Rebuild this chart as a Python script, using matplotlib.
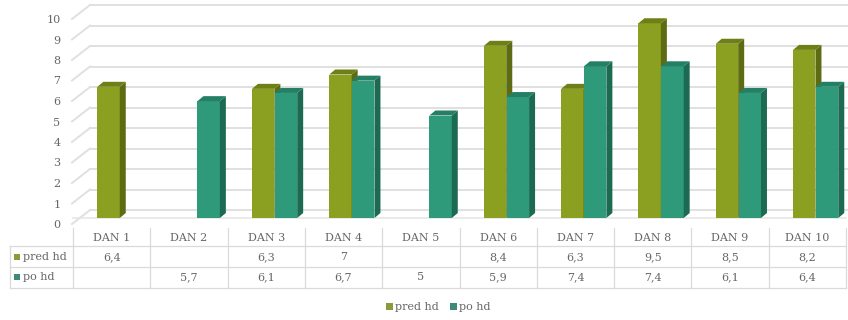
import numpy as np
import matplotlib.pyplot as plt
from matplotlib.patches import Polygon, Patch
from matplotlib import transforms

plt.rcParams['font.family'] = ['DejaVu Serif', 'Liberation Serif']

dani = ['DAN 1', 'DAN 2', 'DAN 3', 'DAN 4', 'DAN 5',
        'DAN 6', 'DAN 7', 'DAN 8', 'DAN 9', 'DAN 10']
pred_hd = [6.4, None, 6.3, 7, None, 8.4, 6.3, 9.5, 8.5, 8.2]
po_hd = [None, 5.7, 6.1, 6.7, 5, 5.9, 7.4, 7.4, 6.1, 6.4]
serije = ['pred hd', 'po hd']

# boje: prednja strana, bok, vrh
boje = {
    'pred hd': ('#8b9f20', '#5d6c12', '#6f7f16'),
    'po hd': ('#2f9a7a', '#1d6a52', '#257f64'),
}
legenda_boje = {'pred hd': '#8b9a3a', 'po hd': '#3f8a78'}
siva = '#666666'

W, H = 848, 320
fig = plt.figure(figsize=(W / 100, H / 100), dpi=100)
fig.patch.set_facecolor('white')


def fy(px):
    return 1 - px / H


# os: nula na 218 px, 10 na 13 px
ax = fig.add_axes([73 / W, fy(218), (846 - 73) / W, (218 - 13) / H])
ax.set_xlim(-0.5, 9.5)
ax.set_ylim(0, 10)
ax.patch.set_alpha(0)
for s in ax.spines.values():
    s.set_visible(False)

px_x = (846 - 73) / 10.0
px_y = (218 - 13) / 10.0
dx = 6 / px_x
dy = 5 / px_y

# mreza na zadnjem zidu
back = 8 / px_y
front = -6 / px_y
for v in range(11):
    ax.plot([-0.5 - 1 / px_x, -0.5 + 17 / px_x], [v + front, v + back],
            color='#e0e0e0', lw=1.4, clip_on=False, zorder=0)
    ax.plot([-0.5 + 17 / px_x, 9.55], [v + back, v + back],
            color='#e0e0e0', lw=1.4, clip_on=False, zorder=0)
ax.plot([-0.5, 9.5], [0, 0], color='#e6e6e6', lw=1.2, clip_on=False, zorder=0)

ax.set_yticks(range(11))
ax.set_yticklabels([str(v) for v in range(11)])
ax.tick_params(axis='y', length=0, pad=9, labelsize=8, labelcolor=siva)
pomak = transforms.ScaledTranslation(0, -0.06, fig.dpi_scale_trans)
for lab in ax.get_yticklabels():
    lab.set_transform(lab.get_transform() + pomak)
ax.set_xticks([])

x = np.arange(len(dani))
sirina = 0.29
pozicije = {'pred hd': -0.04, 'po hd': 0.255}
podaci = {'pred hd': pred_hd, 'po hd': po_hd}

for z, ime in enumerate(serije):
    vals = podaci[ime]
    lice, bok, vrh = boje[ime]
    for i, v in enumerate(vals):
        if v is None:
            continue
        x0 = x[i] + pozicije[ime] - sirina / 2
        x1 = x0 + sirina
        ax.bar(x0, v, width=sirina, align='edge', color=lice,
               zorder=2 + z, linewidth=0)
        ax.add_patch(Polygon([(x1, 0), (x1, v), (x1 + dx, v + dy), (x1 + dx, dy)],
                             closed=True, facecolor=bok, lw=0, zorder=2 + z))
        ax.add_patch(Polygon([(x0, v), (x1, v), (x1 + dx, v + dy), (x0 + dx, v + dy)],
                             closed=True, facecolor=vrh, lw=0, zorder=2 + z))

# tablica podataka ispod grafikona
tr = transforms.blended_transform_factory(ax.transData, fig.transFigure)
crta = '#dadada'
redovi_y = [238, 257, 277]
for yy in [246, 267, 288]:
    fig.add_artist(plt.Line2D([10 / W, 846 / W], [fy(yy), fy(yy)],
                              color=crta, lw=0.9))
for k in range(len(dani) + 1):
    fig.add_artist(plt.Line2D([k - 0.5, k - 0.5], [fy(228), fy(288)],
                              transform=tr, color=crta, lw=0.9))
fig.add_artist(plt.Line2D([10 / W, 10 / W], [fy(246), fy(288)],
                          color=crta, lw=0.9))


def oznaka(v):
    if v is None:
        return ''
    return ('%g' % v).replace('.', ',')


for i, d in enumerate(dani):
    fig.text(x[i], fy(redovi_y[0]), d, transform=tr, ha='center', va='center',
             fontsize=8, color=siva)
    for r, ime in enumerate(serije):
        fig.text(x[i], fy(redovi_y[r + 1]), oznaka(podaci[ime][i]), transform=tr,
                 ha='center', va='center', fontsize=8, color=siva)

for r, ime in enumerate(serije):
    yy = redovi_y[r + 1]
    fig.add_artist(plt.Rectangle((14 / W, fy(yy + 3)), 6 / W, 6 / H,
                                 color=legenda_boje[ime], lw=0))
    fig.text(23 / W, fy(yy), ime, ha='left', va='center', fontsize=8,
             color=siva)

ruke = [Patch(facecolor=legenda_boje[s], edgecolor='none', label=s) for s in serije]
fig.legend(handles=ruke, loc='center', bbox_to_anchor=(0.517, fy(307)), ncol=2,
           frameon=False, fontsize=8, handlelength=0.6, handleheight=0.6,
           handletextpad=0.2, columnspacing=1.0, labelcolor=siva)

fig.savefig('out.png', dpi=100, facecolor='white')
